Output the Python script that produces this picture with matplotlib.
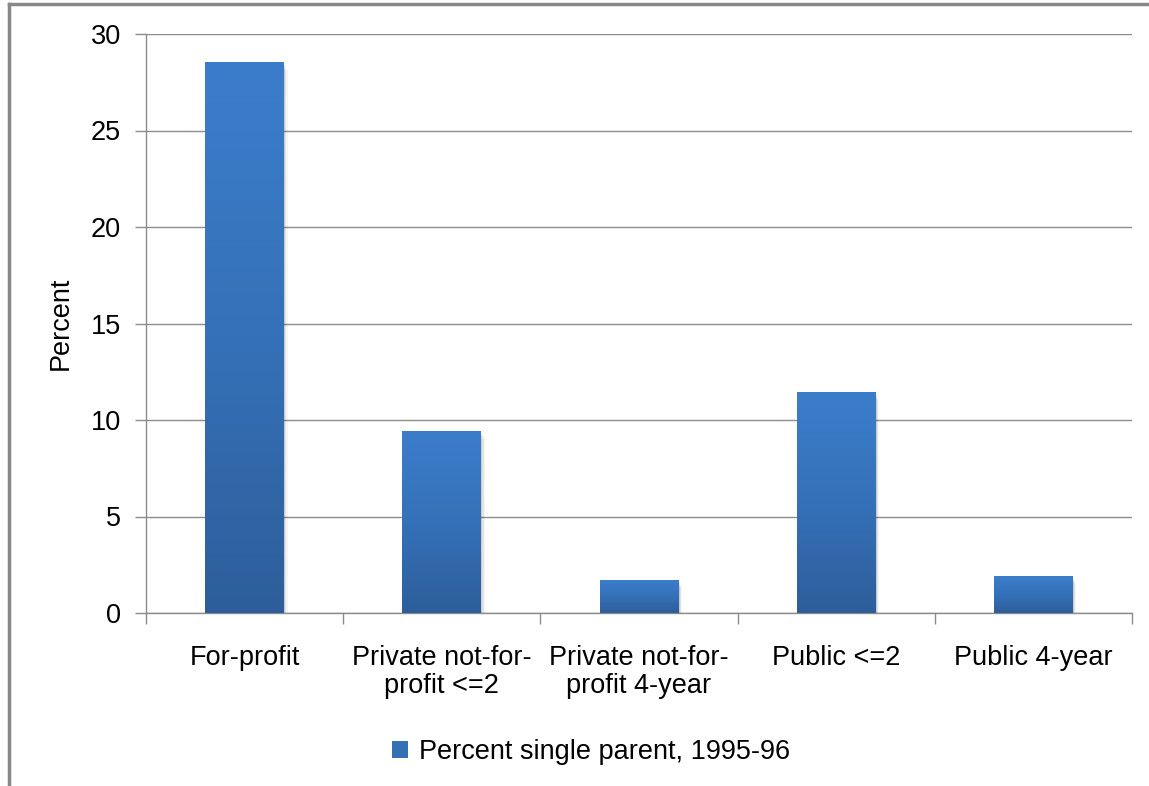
import numpy as np
import matplotlib
matplotlib.use("Agg")
import matplotlib.pyplot as plt
from matplotlib.colors import LinearSegmentedColormap
from matplotlib.lines import Line2D
from matplotlib.patches import Rectangle

# Institution types and share of single-parent students
categories = ["For-profit", "Private not-for-\nprofit <=2", "Private not-for-\nprofit 4-year",
              "Public <=2", "Public 4-year"]
values = [28.5, 9.4, 1.7, 11.4, 1.9]
series_name = "Percent single parent, 1995-96"
y_ticks = [0, 5, 10, 15, 20, 25, 30]

plt.rcParams["font.family"] = ["Liberation Sans", "DejaVu Sans"]
FS = 19.5

W, H = 1149, 786
fig = plt.figure(figsize=(W / 100, H / 100), dpi=100)
ax = fig.add_axes([146 / W, 1 - 613 / H, (1132 - 146) / W, (613 - 34) / H])

grid_col = "#8c8c8c"
bar_width = 0.4
x = np.arange(len(categories))

# Vertical gradient, darker at the base
cmap = LinearSegmentedColormap.from_list("barfill", ["#2d5e9b", "#3571b8", "#3c7dcb"])
grad = np.linspace(0, 1, 256).reshape(-1, 1)

bars = ax.bar(x, values, width=bar_width, color="none", edgecolor="none", zorder=3)
for b in bars:
    x0, w, h = b.get_x(), b.get_width(), b.get_height()
    # soft drop shadow
    for i, a in enumerate([0.10, 0.07, 0.04]):
        off = 0.006 * (i + 1)
        ax.add_patch(Rectangle((x0 + off, -0.12 * (i + 1)), w, h, facecolor="black",
                               edgecolor="none", alpha=a, zorder=2))
    ax.imshow(grad, extent=[x0, x0 + w, 0, h], origin="lower", aspect="auto",
              cmap=cmap, zorder=3, interpolation="bicubic")

ax.set_xlim(-0.5, len(categories) - 0.5)
ax.set_ylim(0, 30)

ax.set_yticks(y_ticks)
ax.tick_params(axis="y", length=8, width=1, color=grid_col, pad=10, labelsize=FS)
ax.yaxis.grid(True, color=grid_col, linewidth=1)
ax.set_axisbelow(True)

ax.set_xticks(x)
ax.set_xticklabels(categories, fontsize=FS, linespacing=1.08)
ax.tick_params(axis="x", which="major", length=0, pad=23)
ax.set_xticks(np.arange(-0.5, len(categories), 1.0), minor=True)
ax.tick_params(axis="x", which="minor", length=8, width=1, color=grid_col)

for side in ["top", "right"]:
    ax.spines[side].set_visible(False)
for side in ["left", "bottom"]:
    ax.spines[side].set_color(grid_col)
    ax.spines[side].set_linewidth(1)

ax.set_ylabel("Percent", fontsize=FS, labelpad=12)

# Legend below the plot
handle = Rectangle((0, 0), 1, 1, facecolor="#3570b5", edgecolor="none")
fig.legend([handle], [series_name], loc="center", bbox_to_anchor=(591 / W, 1 - 752 / H),
           frameon=False, fontsize=FS, handlelength=0.6, handleheight=0.6,
           handletextpad=0.4)

# Outer frame of the chart area
fig.add_artist(Line2D([8.5 / W, 8.5 / W], [0, 1 - 4 / H], transform=fig.transFigure,
                      color="#888888", linewidth=2.5))
fig.add_artist(Line2D([8.5 / W, 1], [1 - 4 / H, 1 - 4 / H], transform=fig.transFigure,
                      color="#888888", linewidth=2.5))

fig.savefig("out.png", dpi=100)
